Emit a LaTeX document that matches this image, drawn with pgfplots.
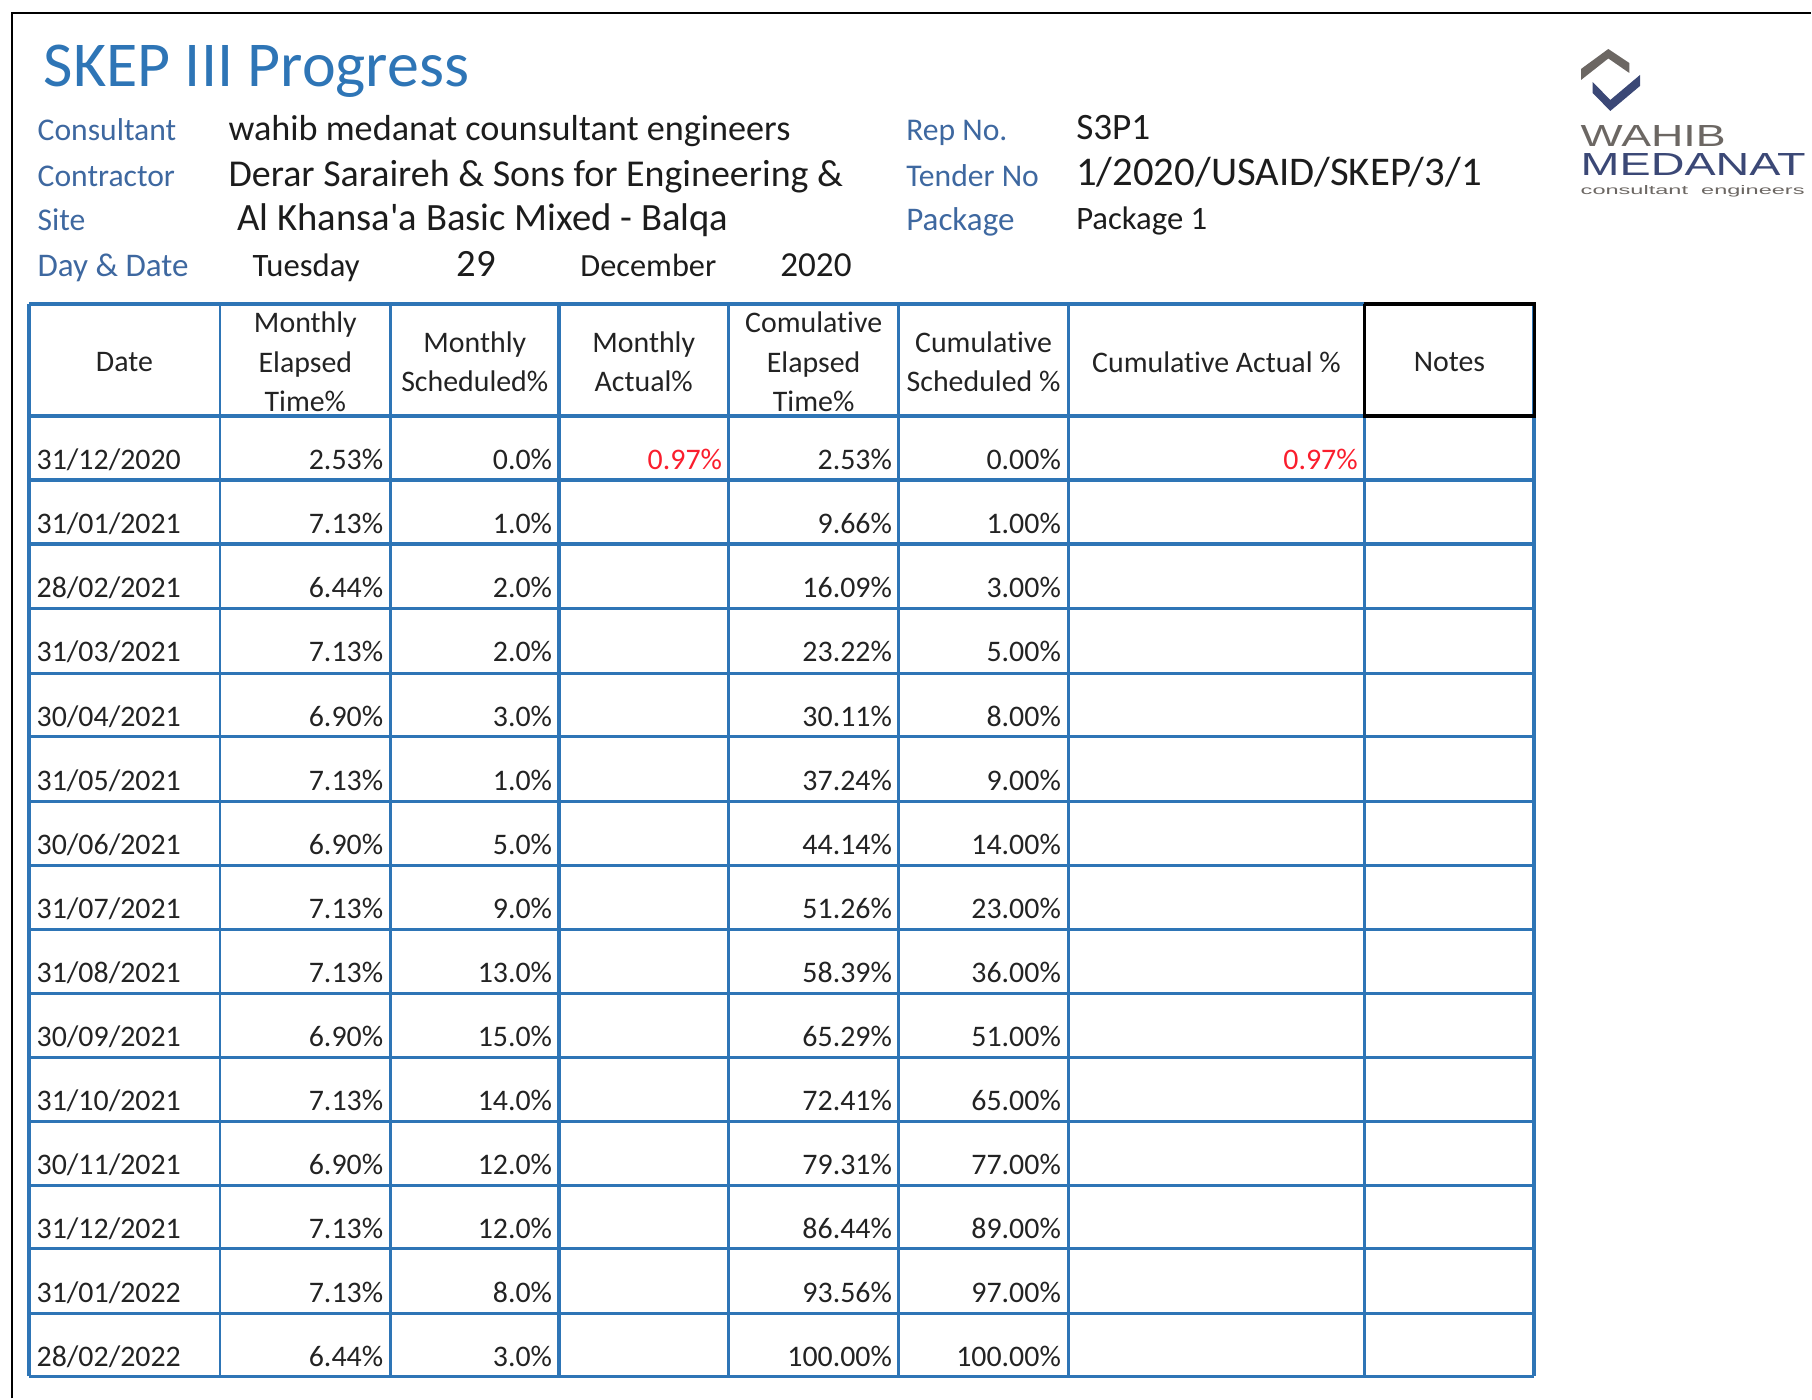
\documentclass[border=0pt]{standalone}
\usepackage{pgfplots}
\usepackage{pgfplotstable}
\usepackage{graphicx}
\usepackage{fontspec}
\setmainfont{Carlito}[Ligatures={TeX,NoCommon}]
\newfontfamily\logofont{Liberation Sans}
\pgfplotsset{compat=1.18}
\definecolor{tblue}{RGB}{46,117,182}
\definecolor{ttl}{RGB}{46,117,182}
\definecolor{lbl}{RGB}{62,104,160}
\definecolor{val}{RGB}{28,28,28}
\definecolor{txt}{RGB}{35,35,35}
\definecolor{redv}{RGB}{250,30,45}
\definecolor{logogray}{RGB}{108,103,99}
\definecolor{logonavy}{RGB}{59,72,118}

\pgfplotstableread{
row date met msch cet csch
0 31/12/2020 2.53 0.0 2.53 0.00
1 31/01/2021 7.13 1.0 9.66 1.00
2 28/02/2021 6.44 2.0 16.09 3.00
3 31/03/2021 7.13 2.0 23.22 5.00
4 30/04/2021 6.90 3.0 30.11 8.00
5 31/05/2021 7.13 1.0 37.24 9.00
6 30/06/2021 6.90 5.0 44.14 14.00
7 31/07/2021 7.13 9.0 51.26 23.00
8 31/08/2021 7.13 13.0 58.39 36.00
9 30/09/2021 6.90 15.0 65.29 51.00
10 31/10/2021 7.13 14.0 72.41 65.00
11 30/11/2021 6.90 12.0 79.31 77.00
12 31/12/2021 7.13 12.0 86.44 89.00
13 31/01/2022 7.13 8.0 93.56 97.00
14 28/02/2022 6.44 3.0 100.00 100.00
}\progress

\pgfplotstableread{
row mact cact
0 0.97 0.97
}\actual

\begin{document}
\begin{tikzpicture}
\begin{axis}[
  width=18.12cm, height=13.99cm, scale only axis, hide axis,
  xmin=0, xmax=1812, ymin=0, ymax=1399, y dir=reverse, clip=false,
  tbl/.style={tblue, line width=0.85pt, mark=none, forget plot},
  cell/.style={only marks, mark=*, mark size=0pt, mark options={draw=none, fill=none},
    forget plot, point meta=explicit symbolic,
    nodes near coords={\pgfplotspointmeta\%},
    nodes near coords align={anchor=base east},
    every node near coord/.append style={font=\fontsize{8.5}{10}\selectfont, text=txt, inner sep=0pt, anchor=base east}},
]
% full picture extent
\path (axis cs:0,0) rectangle (axis cs:1812,1399);
% outer frame
\addplot[black, line width=0.45pt, mark=none, forget plot] coordinates {(12,1399) (12,13) (1812,13)};

% table grid
\pgfplotsinvokeforeach{304,416,480,544,609,674,737,802,866,930,994,1058,1122,1186,1249,1314,1377}{
  \addplot[tbl, line width=1pt] coordinates {(29,#1) (1535,#1)};
}
\pgfplotsinvokeforeach{220,391,729,899,1069,1365}{
  \addplot[tbl, line width=0.8pt] coordinates {(#1,304) (#1,1377)};
}
\pgfplotsinvokeforeach{29,559,1535}{
  \addplot[tbl, line width=1.1pt] coordinates {(#1,304) (#1,1377)};
}
\addplot[black, line width=1.05pt, mark=none, forget plot] coordinates {(1365,304) (1535,304) (1535,416) (1365,416) (1365,304)};

% table header
\node[align=center, font=\fontsize{8.5}{11.2}\selectfont, text=txt] at (axis cs:124.5,362) {Date};
\node[align=center, font=\fontsize{8.5}{11.2}\selectfont, text=txt] at (axis cs:305.5,362) {Monthly\\Elapsed\\Time\%};
\node[align=center, font=\fontsize{8.5}{11.2}\selectfont, text=txt] at (axis cs:475,362) {Monthly\\Scheduled\%};
\node[align=center, font=\fontsize{8.5}{11.2}\selectfont, text=txt] at (axis cs:644,362) {Monthly\\Actual\%};
\node[align=center, font=\fontsize{8.5}{11.2}\selectfont, text=txt] at (axis cs:814,362) {Comulative\\Elapsed\\Time\%};
\node[align=center, font=\fontsize{8.5}{11.2}\selectfont, text=txt] at (axis cs:984,362) {Cumulative\\Scheduled \%};
\node[align=center, font=\fontsize{8.5}{11.2}\selectfont, text=txt] at (axis cs:1217,362) {Cumulative Actual \%};
\node[align=center, font=\fontsize{8.5}{11.2}\selectfont, text=txt] at (axis cs:1450,362) {Notes};

% table body
\addplot[cell, nodes near coords={\pgfplotspointmeta}, nodes near coords align={anchor=base west},
  every node near coord/.append style={anchor=base west}]
  table[x expr=36, y expr={470.07+64.07*\thisrow{row}}, meta=date] {\progress};
\addplot[cell] table[x expr=384, y expr={470.07+64.07*\thisrow{row}}, meta=met] {\progress};
\addplot[cell] table[x expr=553, y expr={470.07+64.07*\thisrow{row}}, meta=msch] {\progress};
\addplot[cell] table[x expr=893, y expr={470.07+64.07*\thisrow{row}}, meta=cet] {\progress};
\addplot[cell] table[x expr=1062, y expr={470.07+64.07*\thisrow{row}}, meta=csch] {\progress};
\addplot[cell, every node near coord/.append style={text=redv}]
  table[x expr=723, y expr={470.07+64.07*\thisrow{row}}, meta=mact] {\actual};
\addplot[cell, every node near coord/.append style={text=redv}]
  table[x expr=1359, y expr={470.07+64.07*\thisrow{row}}, meta=cact] {\actual};

% title block
\node[anchor=base west, inner sep=0pt, text=ttl, font=\fontsize{18.2}{20}\selectfont] at (axis cs:43,87) {SKEP III Progress};
\node[anchor=base west, inner sep=0pt, text=lbl, font=\fontsize{9}{10}\selectfont] at (axis cs:37,141) {Consultant};
\node[anchor=base west, inner sep=0pt, text=lbl, font=\fontsize{9}{10}\selectfont] at (axis cs:37,187) {Contractor};
\node[anchor=base west, inner sep=0pt, text=lbl, font=\fontsize{9}{10}\selectfont] at (axis cs:37,231) {Site};
\node[anchor=base west, inner sep=0pt, text=lbl, font=\fontsize{9.4}{10}\selectfont] at (axis cs:37,277) {Day \& Date};
\node[anchor=base west, inner sep=0pt, text=val, font=\fontsize{10.3}{12}\selectfont] at (axis cs:228,141) {wahib medanat counsultant engineers};
\node[anchor=base west, inner sep=0pt, text=val, font=\fontsize{10.8}{12}\selectfont] at (axis cs:228,187) {Derar Saraireh \& Sons for Engineering \&};
\node[anchor=base west, inner sep=0pt, text=val, font=\fontsize{11}{12}\selectfont] at (axis cs:237,231) {Al Khansa\textquotesingle a Basic Mixed - Balqa};
\node[anchor=base west, inner sep=0pt, text=val, font=\fontsize{9.3}{12}\selectfont] at (axis cs:252,277) {Tuesday};
\node[anchor=base west, inner sep=0pt, text=val, font=\fontsize{11}{12}\selectfont] at (axis cs:456,277) {29};
\node[anchor=base west, inner sep=0pt, text=val, font=\fontsize{9.2}{12}\selectfont] at (axis cs:580,277) {December};
\node[anchor=base west, inner sep=0pt, text=val, font=\fontsize{10}{12}\selectfont] at (axis cs:780,277) {2020};
\node[anchor=base west, inner sep=0pt, text=lbl, font=\fontsize{9}{10}\selectfont] at (axis cs:906,141) {Rep No.};
\node[anchor=base west, inner sep=0pt, text=lbl, font=\fontsize{9}{10}\selectfont] at (axis cs:906,187) {Tender No};
\node[anchor=base west, inner sep=0pt, text=lbl, font=\fontsize{9.4}{10}\selectfont] at (axis cs:906,231) {Package};
\node[anchor=base west, inner sep=0pt, text=val, font=\fontsize{10.6}{12}\selectfont] at (axis cs:1076,140) {S3P1};
\node[anchor=base west, inner sep=0pt, text=val, font=\fontsize{11.6}{12}\selectfont] at (axis cs:1076,186) {1/2020/USAID/SKEP/3/1};
\node[anchor=base west, inner sep=0pt, text=val, font=\fontsize{9.3}{12}\selectfont] at (axis cs:1076,230) {Package 1};

% logo
\addplot[fill=logogray, draw=none, forget plot] coordinates {(1581.7,69) (1609,49) (1630,63) (1630,73) (1609,58.5) (1581.7,80)} --cycle;
\addplot[fill=logonavy, draw=none, forget plot] coordinates {(1593.3,82) (1611,100) (1640.7,75) (1640.7,86) (1611,111) (1593.3,93)} --cycle;
\node[anchor=base west, inner sep=0pt, text=logogray] at (axis cs:1580.7,147) {\resizebox{1.45cm}{0.21cm}{\logofont WAHIB}};
\node[anchor=base west, inner sep=0pt, text=logonavy] at (axis cs:1580.7,176) {\resizebox{2.25cm}{0.22cm}{\logofont MEDANAT}};
\node[anchor=base west, inner sep=0pt, text=logogray] at (axis cs:1580.7,195) {\resizebox{2.24cm}{0.09cm}{\logofont consultant\ \ engineers}};
\end{axis}
\end{tikzpicture}
\end{document}
